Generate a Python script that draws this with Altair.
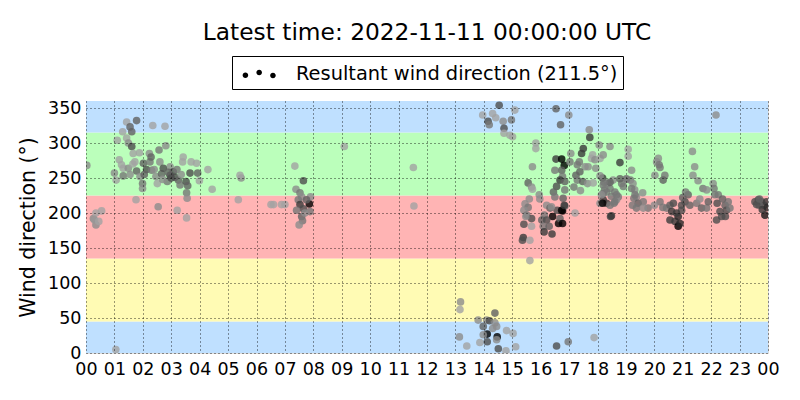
import altair as alt
import pandas as pd

title_text = "Latest time: 2022-11-11 00:00:00 UTC"
resultant_direction = 211.5
series_label = f"Resultant wind direction ({resultant_direction}°)"

# direction bands
band_names = ["N-low", "E", "S", "W", "N-high"]
band_lower = [0, 45, 135, 225, 315]
band_upper = [45, 135, 225, 315, 360]
band_colors = ["#bfe0ff", "#fffbb4", "#ffb4b4", "#bbffbb", "#bfe0ff"]

hour_ticks = list(range(25))
dir_ticks = [0, 50, 100, 150, 200, 250, 300, 350]

# (hour, direction, darkness)
block_00_05 = [
    (0.03, 268, 0.3), (0.26, 192, 0.3), (0.35, 200, 0.2), (0.55, 203, 0.2), (0.35, 183, 0.3),
    (0.30, 190, 0.25), (0.45, 188, 0.2), (1.05, 5, 0.2),
    (1.43, 330, 0.2), (1.78, 332, 0.5), (1.55, 323, 0.5), (1.61, 316, 0.5), (1.29, 316, 0.2),
    (1.10, 304, 0.2), (1.43, 307, 0.2), (1.49, 300, 0.3), (1.61, 295, 0.6), (2.35, 325, 0.2),
    (2.78, 324, 0.2), (2.81, 296, 0.3), (2.57, 290, 0.4), (1.66, 285, 0.2), (1.88, 286, 0.2),
    (2.23, 285, 0.3), (1.17, 276, 0.2), (1.25, 269, 0.2), (1.31, 264, 0.2), (1.72, 273, 0.2),
    (2.02, 271, 0.5), (2.25, 273, 0.4), (2.29, 280, 0.5), (2.60, 273, 0.3), (2.96, 266, 0.3),
    (3.42, 280, 0.2), (3.40, 273, 0.2), (3.70, 273, 0.2), (3.89, 271, 0.2), (4.29, 262, 0.2),
    (1.00, 257, 0.3), (1.06, 247, 0.2), (1.31, 253, 0.4), (1.49, 264, 0.3), (1.78, 260, 0.5),
    (1.90, 252, 0.3), (1.99, 242, 0.4), (1.99, 235, 0.3), (2.13, 262, 0.6), (2.31, 261, 0.4),
    (2.46, 252, 0.3), (2.51, 242, 0.2), (2.66, 256, 0.5), (2.72, 264, 0.6), (2.86, 245, 0.4),
    (2.96, 254, 0.7), (3.07, 259, 0.6), (3.13, 251, 0.6), (3.25, 247, 0.5), (3.31, 240, 0.4),
    (3.52, 245, 0.6), (3.58, 239, 0.5), (3.66, 257, 0.6), (3.93, 257, 0.5), (3.99, 246, 0.2),
    (3.54, 229, 0.4), (3.56, 221, 0.3), (4.44, 234, 0.2), (1.76, 219, 0.2), (2.54, 209, 0.3),
    (3.21, 204, 0.2), (3.54, 193, 0.2), (5.36, 219, 0.2), (5.46, 250, 0.3), (5.42, 254, 0.2),
    (2.90, 258, 0.5), (3.00, 250, 0.6), (3.20, 262, 0.4), (2.70, 248, 0.3), (3.35, 255, 0.3),
    (1.55, 255, 0.3), (1.65, 270, 0.2), (2.05, 255, 0.5), (2.40, 262, 0.3),
]

block_06_12 = [
    (6.51, 212, 0.2), (6.60, 212, 0.2), (6.88, 212, 0.2), (7.00, 212, 0.2), (7.35, 267, 0.2),
    (7.39, 234, 0.3), (7.53, 229, 0.4), (7.65, 246, 0.6), (7.59, 223, 0.3), (7.47, 219, 0.4),
    (7.53, 212, 0.7), (7.86, 213, 1.0), (7.65, 206, 0.6), (7.90, 223, 0.3), (7.88, 202, 0.4),
    (7.59, 195, 0.5), (7.62, 189, 0.4), (7.50, 183, 0.3), (7.41, 204, 0.4), (7.76, 219, 0.5),
    (7.70, 200, 0.3),
    (9.09, 295, 0.2), (11.52, 265, 0.2), (11.54, 210, 0.2),
]

block_13_15 = [
    (13.18, 73, 0.3), (13.16, 62, 0.2), (13.14, 23, 0.3), (13.40, 10, 0.2), (13.80, 47, 0.3),
    (14.10, 47, 0.3), (14.20, 46, 0.6), (14.39, 57, 0.5), (14.39, 43, 0.3), (14.45, 38, 0.3),
    (13.98, 38, 0.5), (14.12, 27, 1.0), (14.47, 23, 1.0), (13.98, 26, 0.3), (13.86, 15, 0.2),
    (14.12, 16, 0.6), (14.45, 19, 0.3), (14.51, 6, 0.6), (14.78, 3, 0.2), (14.80, 32, 0.2),
    (15.03, 28, 0.2), (15.12, 9, 0.2), (14.31, 35, 0.3), (16.56, 10, 0.6), (16.97, 16, 0.4),
    (17.88, 22, 0.2),
    (13.96, 340, 0.2), (14.15, 331, 0.6), (14.19, 326, 0.4), (14.31, 342, 0.2), (14.54, 354, 0.6),
    (14.68, 331, 0.3), (14.71, 321, 0.6), (14.97, 333, 0.4), (15.09, 347, 0.2), (14.71, 314, 0.2),
    (14.92, 311, 0.2), (15.01, 309, 0.2), (16.54, 349, 0.5), (16.70, 326, 0.5), (16.99, 340, 0.3),
    (14.42, 336, 0.2),
]

block_15_18 = [
    (17.71, 319, 0.3), (17.73, 308, 0.7), (15.83, 300, 0.2), (15.83, 292, 0.2), (15.71, 266, 0.3),
    (16.54, 277, 0.7), (16.74, 277, 1.0), (16.83, 268, 1.0), (17.06, 285, 0.3), (17.03, 273, 0.4),
    (16.74, 261, 0.5), (16.77, 252, 0.4), (16.68, 247, 0.7), (16.85, 245, 0.5), (17.36, 273, 0.4),
    (17.44, 285, 0.7), (17.29, 269, 0.4), (17.56, 266, 0.3), (17.38, 259, 0.5), (17.67, 266, 0.3),
    (17.24, 254, 0.5), (17.29, 247, 0.4), (17.48, 245, 0.5), (17.65, 242, 0.3), (17.17, 237, 0.4),
    (17.40, 232, 0.3), (17.85, 243, 0.2), (17.94, 264, 0.3), (17.79, 278, 0.2), (18.06, 297, 0.3),
    (17.83, 283, 0.2), (17.91, 276, 0.3), (18.09, 278, 0.2), (18.20, 283, 0.3), (18.44, 295, 0.3),
    (18.79, 272, 0.7), (19.08, 291, 0.2), (19.08, 281, 0.2), (19.20, 261, 0.3), (15.56, 243, 0.5),
    (15.68, 237, 0.3), (15.71, 234, 0.2), (15.95, 226, 0.3), (15.97, 220, 0.3), (15.60, 220, 0.3),
    (15.45, 213, 0.3), (15.56, 208, 0.4), (15.41, 204, 0.3), (15.51, 197, 0.4), (15.68, 192, 0.6),
    (15.48, 195, 0.3), (15.41, 184, 0.6), (15.68, 181, 0.2), (15.39, 165, 0.7), (15.36, 161, 0.6),
    (15.62, 161, 0.2), (15.62, 132, 0.2), (16.21, 211, 0.3), (16.33, 207, 0.5), (16.42, 195, 1.0),
    (16.63, 185, 1.0), (16.77, 203, 1.0), (16.58, 204, 0.6), (16.13, 197, 0.4), (16.04, 190, 0.5),
    (16.21, 190, 0.6), (16.09, 181, 0.4), (16.30, 181, 0.5), (16.12, 173, 0.7), (16.40, 170, 0.7),
    (16.68, 192, 0.5), (16.38, 209, 0.3), (16.85, 210, 0.5), (17.21, 200, 0.2), (16.50, 261, 0.4),
    (16.56, 238, 0.6), (16.45, 230, 0.5), (16.50, 223, 0.4), (16.85, 233, 0.4), (16.79, 221, 0.5),
    (17.50, 292, 0.7), (16.77, 185, 1.0), (16.74, 204, 1.0), (16.83, 211, 0.7),
]

block_18_20 = [
    (18.20, 219, 0.7), (18.32, 214, 0.7), (18.09, 214, 0.3), (18.49, 196, 0.7), (18.25, 233, 0.4),
    (18.37, 242, 0.3), (18.44, 235, 0.4), (18.55, 247, 0.3), (18.61, 230, 0.4), (18.73, 223, 0.4),
    (18.85, 242, 0.4), (19.00, 248, 0.3), (19.16, 247, 0.4), (19.25, 242, 0.3), (19.31, 233, 0.3),
    (19.37, 223, 0.3), (18.67, 219, 0.3), (18.58, 214, 0.4), (18.20, 228, 0.4), (18.49, 224, 0.4),
    (18.20, 240, 0.4), (18.79, 249, 0.5), (18.44, 244, 0.5), (18.18, 250, 0.7), (18.09, 253, 0.3),
    (18.23, 244, 0.4), (18.32, 230, 0.4), (18.14, 226, 0.3), (18.18, 214, 1.0), (18.44, 211, 0.4),
    (18.46, 195, 0.7), (18.67, 226, 0.4), (18.61, 216, 0.4), (18.91, 238, 0.4), (19.02, 249, 0.4),
    (19.20, 235, 0.4), (19.28, 221, 0.4), (19.43, 214, 0.5), (19.61, 216, 0.4), (19.23, 211, 0.4),
    (19.78, 207, 0.4), (19.37, 207, 0.4), (19.61, 207, 0.3), (19.59, 229, 0.3), (19.32, 226, 0.4),
]

block_20_24 = [
    (20.14, 278, 0.3), (20.08, 273, 0.3), (20.17, 269, 0.4), (20.02, 254, 0.3), (20.37, 254, 0.4),
    (20.31, 247, 0.5), (20.20, 265, 0.4), (20.43, 207, 0.4), (20.55, 211, 0.5), (20.20, 216, 0.4),
    (20.61, 202, 0.7), (20.55, 190, 0.7), (20.73, 188, 0.7), (20.84, 181, 1.0), (20.84, 195, 0.8),
    (20.96, 204, 0.6), (21.08, 216, 0.6), (21.19, 226, 0.5), (21.25, 211, 0.5), (20.96, 211, 0.6),
    (20.67, 214, 0.6), (20.90, 185, 0.8), (20.78, 200, 0.7), (21.00, 222, 0.5), (21.10, 230, 0.4),
    (20.00, 211, 0.3), (20.30, 208, 0.4),
    (21.34, 288, 0.3), (21.42, 266, 0.3), (21.36, 254, 0.3), (21.54, 246, 0.3), (21.71, 235, 0.4),
    (21.84, 233, 0.3), (22.07, 242, 0.3), (22.10, 235, 0.4), (22.25, 226, 0.4), (22.17, 340, 0.3),
    (21.49, 214, 0.4), (21.66, 207, 0.5), (21.84, 207, 0.4), (21.90, 216, 0.5), (22.13, 226, 0.4),
    (22.21, 214, 0.6), (22.31, 202, 0.6), (22.49, 211, 0.5), (22.60, 216, 0.4), (22.54, 204, 0.6),
    (22.37, 195, 0.6), (22.66, 207, 0.4), (22.19, 190, 0.6), (22.40, 220, 0.5), (22.50, 195, 0.6),
    (21.60, 220, 0.3),
    (23.54, 216, 0.6), (23.66, 219, 0.6), (23.77, 216, 0.6), (23.86, 211, 0.6), (23.69, 211, 0.5),
    (23.89, 197, 0.9), (23.95, 216, 0.7), (23.60, 212, 0.6), (23.80, 205, 0.7), (23.98, 208, 0.8),
    (23.70, 220, 0.5),
]

points = block_00_05 + block_06_12 + block_13_15 + block_15_18 + block_18_20 + block_20_24
df_points = pd.DataFrame(points, columns=["hour", "direction", "darkness"])

df_bands = pd.DataFrame({
    "band": band_names,
    "lower": band_lower,
    "upper": band_upper,
    "start": [0] * 5,
    "end": [24] * 5,
})

df_legend = pd.DataFrame({"series": [series_label], "hour": [0.0], "direction": [resultant_direction]})

FONT = "DejaVu Sans"

x_axis = alt.Axis(
    values=hour_ticks,
    labelExpr="datum.value == 24 ? '00' : (datum.value < 10 ? '0' + datum.value : '' + datum.value)",
    title=None, ticks=False, labelPadding=7, labelFontSize=17.5, labelFont=FONT,
    labelColor="black", labelFlush=False, labelOverlap=False, domain=False,
    grid=True, gridColor="black", gridDash=[1, 3], gridWidth=0.8, gridOpacity=1, zindex=1,
)
y_axis = alt.Axis(
    values=dir_ticks, title="Wind direction (°)", titleFontSize=20.5, titleFont=FONT,
    titleFontWeight="normal", titleColor="black", titlePadding=9,
    ticks=False, labelPadding=5, labelFontSize=17.5, labelFont=FONT, labelColor="black",
    labelFlush=False, domain=False,
    grid=True, gridColor="black", gridDash=[1, 3], gridWidth=0.8, gridOpacity=1, zindex=1,
)
x_scale = alt.Scale(domain=[0, 24], nice=False, zero=False)
y_scale = alt.Scale(domain=[0, 360], nice=False)

bands = alt.Chart(df_bands).mark_rect().encode(
    x=alt.X("start:Q", scale=x_scale, axis=x_axis),
    x2="end:Q",
    y=alt.Y("lower:Q", scale=y_scale, axis=y_axis),
    y2="upper:Q",
    fill=alt.Fill("band:N", scale=alt.Scale(domain=band_names, range=band_colors), legend=None),
)

scatter = alt.Chart(df_points).mark_circle(size=58, opacity=0.8, clip=True).encode(
    x=alt.X("hour:Q", scale=x_scale, axis=x_axis),
    y=alt.Y("direction:Q", scale=y_scale, axis=y_axis),
    color=alt.Color("darkness:Q",
                    scale=alt.Scale(domain=[0.2, 1.0], range=["#a2a2a2", "#000000"], clamp=True),
                    legend=None),
)

# legend glyph: three dots like matplotlib's scatterpoints
r = 0.22
def dot(cx, cy):
    return f"M{cx - r},{cy} a{r},{r} 0 1,0 {2 * r},0 a{r},{r} 0 1,0 {-2 * r},0 Z"
three_dots = dot(-0.36, 0.1) + " " + dot(0.72, -0.12) + " " + dot(1.8, 0.12)

legend_layer = alt.Chart(df_legend).mark_point(filled=True, opacity=0, color="black").encode(
    x=alt.X("hour:Q", scale=x_scale, axis=x_axis),
    y=alt.Y("direction:Q", scale=y_scale, axis=y_axis),
    shape=alt.Shape(
        "series:N",
        scale=alt.Scale(domain=[series_label], range=[three_dots]),
        legend=alt.Legend(
            title=None, orient="none", legendX=146, legendY=-45,
            labelFontSize=19.4, labelFont=FONT, labelColor="black", labelOffset=33,
            labelLimit=1000,
            symbolSize=650, symbolFillColor="black", symbolStrokeColor="black",
            symbolStrokeWidth=0, symbolOpacity=1,
            strokeColor="black", fillColor="white", padding=5, cornerRadius=0,
        ),
    ),
)

chart = alt.layer(bands, scatter, legend_layer).properties(
    width=682,
    height=252,
    title=alt.TitleParams(title_text, fontSize=23.3, font=FONT, fontWeight="normal",
                          color="black", anchor="middle", offset=10),
    padding={"left": 78, "top": 93, "right": 24, "bottom": 39},
    autosize=alt.AutoSizeParams(type="none"),
).configure_view(stroke="black", strokeWidth=1.2).configure(background="white")

chart.save("out.html", embed_options={"renderer": "svg", "actions": False})
